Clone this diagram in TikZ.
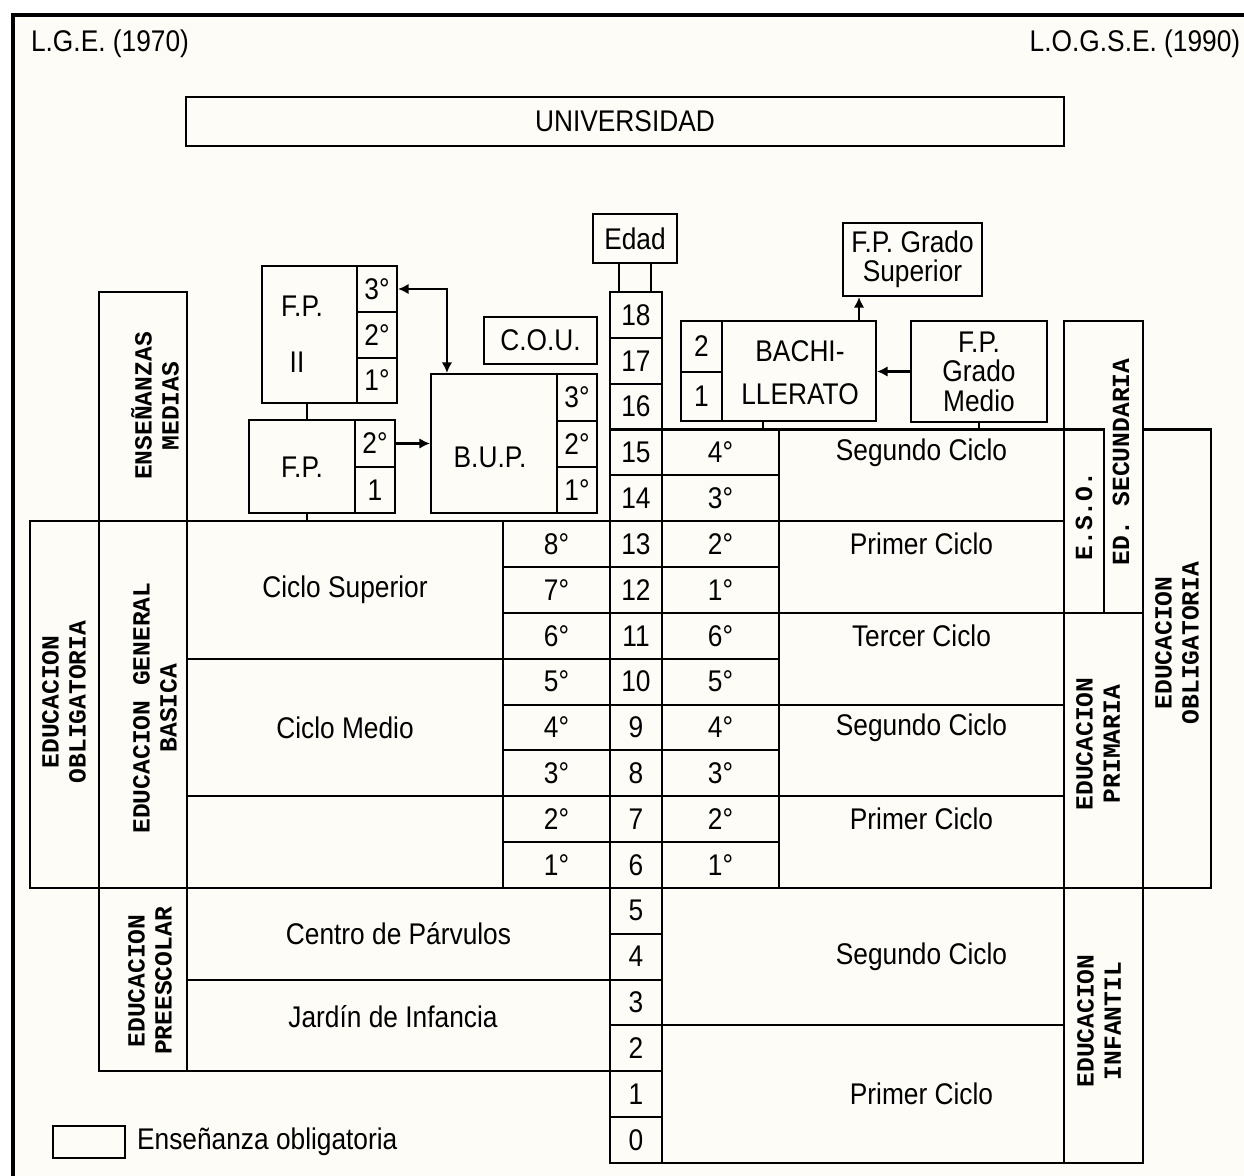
\documentclass[tikz,border=0pt]{standalone}
\usepackage{fontspec}
\setmainfont{Liberation Sans}[FakeStretch=0.88]
\newfontfamily\vertfont{Liberation Mono}
\usepackage{tikz}
\usetikzlibrary{arrows.meta,positioning}
\definecolor{paper}{RGB}{253,252,247}
\newcommand{\cellat}[6]{%
  \node[cell, minimum width={(#4-#2)*0.01cm}, minimum height={(#5-#3)*0.01cm}]
    (#1) at ({(#2+#4)/2},{(#3+#5)/2}) {#6};}

\begin{document}
\begin{tikzpicture}[x=0.01cm, y=-0.01cm, line width=0.6pt,
  font=\fontsize{8.5}{8.4}\selectfont,
  cell/.style={draw, inner sep=0pt, align=center},
  txt/.style={inner sep=0pt},
  vert/.style={rotate=90, align=center, inner sep=0pt, font=\vertfont\bfseries\fontsize{7}{7.7}\selectfont},
  arr/.style={-{Latex[length=3pt,width=3pt]}},
  dblarr/.style={{Latex[length=3pt,width=3pt]}-{Latex[length=3pt,width=3pt]}}]
  \useasboundingbox (0,0) rectangle (1244,1176);
  \fill[paper] (13,15) rectangle (1244,1176);
  \draw[line width=1.1pt] (13,1176) -- (13,15) -- (1244,15);

  % titles
  \node[txt] (lge) at (110,44) {L.G.E. (1970)};
  \node[txt] (logse) at (1135,44) {L.O.G.S.E. (1990)};
  \cellat{univ}{186}{97}{1064}{146}{UNIVERSIDAD}

  % age column
  \cellat{edad}{593}{214}{677}{263}{Edad}
  \foreach \a in {0,...,18} {
    \pgfmathsetmacro{\yt}{292+(18-\a)*45.84}
    \pgfmathsetmacro{\yb}{\yt+45.84}
    \cellat{age\a}{610}{\yt}{662}{\yb}{\a}
  }
  \draw ([xshift=-0.16cm]edad.south) -- ([xshift=-0.16cm]edad.south |- age18.north);
  \draw ([xshift=0.16cm]edad.south) -- ([xshift=0.16cm]edad.south |- age18.north);

  % L.G.E. side
  \cellat{oblL}{30}{521.2}{99}{887.9}{}
  \cellat{egb}{99}{521.2}{187}{887.9}{}
  \cellat{ensm}{99}{292}{187}{521.2}{}
  \cellat{presc}{99}{887.9}{187}{1071.3}{}
  \cellat{csup}{187}{521.2}{503}{658.7}{Ciclo Superior}
  \cellat{cmed}{187}{658.7}{503}{796.2}{Ciclo Medio}
  \cellat{cini}{187}{796.2}{503}{887.9}{}
  \cellat{parv}{187}{887.9}{610}{979.6}{Centro de Párvulos}
  \cellat{jard}{187}{979.6}{610}{1071.3}{}
  \node[txt] (jardt) at (393,1017) {Jardín de Infancia};
  \foreach \a/\g in {13/8,12/7,11/6,10/5,9/4,8/3,7/2,6/1} {
    \pgfmathsetmacro{\yt}{292+(18-\a)*45.84}
    \pgfmathsetmacro{\yb}{\yt+45.84}
    \cellat{lgeg\a}{503}{\yt}{610}{\yb}{\g°}
  }
  \node[vert] (oblLt) at (64,702) {EDUCACION\\OBLIGATORIA};
  \node[vert] (egbt) at (155,708) {EDUCACION GENERAL\\BASICA};
  \node[vert] (ensmt) at (155,406) {ENSEÑANZAS\\MEDIAS};
  \node[vert] (presct) at (150,981) {EDUCACION\\PREESCOLAR};

  % F.P. and B.U.P.
  \cellat{fptwo}{262}{266}{397}{403}{}
  \cellat{fptwoc}{357}{266}{397}{312}{3°}
  \cellat{fptwob}{357}{312}{397}{358}{2°}
  \cellat{fptwoa}{357}{358}{397}{403}{1°}
  \node[txt] (fptwot) at (302,306) {F.P.};
  \node[txt] (fptwon) at (297,362) {II};
  \cellat{fpone}{249}{420}{395}{513}{}
  \cellat{fponeb}{355}{420}{395}{467}{2°}
  \cellat{fponea}{355}{467}{395}{513}{1}
  \node[txt] (fponet) at (302,467) {F.P.};
  \cellat{bup}{431}{374}{597}{513}{}
  \cellat{bupc}{557}{374}{597}{421}{3°}
  \cellat{bupb}{557}{421}{597}{467}{2°}
  \cellat{bupa}{557}{467}{597}{513}{1°}
  \node[txt] (bupt) at (490,457) {B.U.P.};
  \cellat{cou}{484}{317}{597}{364}{C.O.U.}
  \draw ([xshift=-0.225cm]fptwo.south) -- ([xshift=-0.225cm]fptwo.south |- fpone.north);
  \draw ([xshift=-0.15cm]fpone.south) -- ([xshift=-0.15cm]fpone.south |- csup.north);
  \draw[arr] (fponeb.east) -- (fponeb.east -| bup.west);
  \draw[dblarr] (fptwoc.east) -| ([xshift=-0.67cm]bup.north);

  % L.O.G.S.E. side
  \foreach \a/\g in {15/4,14/3,13/2,12/1,11/6,10/5,9/4,8/3,7/2,6/1} {
    \pgfmathsetmacro{\yt}{292+(18-\a)*45.84}
    \pgfmathsetmacro{\yb}{\yt+45.84}
    \cellat{logg\a}{662}{\yt}{779}{\yb}{\g°}
  }
  \cellat{esotwo}{779}{429.5}{1064}{521.2}{}
  \cellat{esoone}{779}{521.2}{1064}{612.9}{}
  \cellat{primc}{779}{612.9}{1064}{704.6}{}
  \cellat{primb}{779}{704.6}{1064}{796.2}{}
  \cellat{prima}{779}{796.2}{1064}{887.9}{}
  \cellat{infb}{662}{887.9}{1064}{1025.4}{}
  \cellat{infa}{662}{1025.4}{1064}{1163}{}
  \node[txt] (esotwot) at (esotwo |- age15) {Segundo Ciclo};
  \node[txt] (esoonet) at (esotwo |- age13) {Primer Ciclo};
  \node[txt] (primct) at (esotwo |- age11) {Tercer Ciclo};
  \node[txt] (primbt) at (esotwo |- age9) {Segundo Ciclo};
  \node[txt] (primat) at (esotwo |- age7) {Primer Ciclo};
  \node[txt] (infbt) at (esotwo |- age4) {Segundo Ciclo};
  \node[txt] (infat) at (esotwo |- age1) {Primer Ciclo};
  \cellat{esec}{1064}{321}{1143}{612.9}{}
  \cellat{eso}{1064}{429.5}{1104}{612.9}{}
  \cellat{eprim}{1064}{612.9}{1143}{887.9}{}
  \cellat{oblR}{1143}{429.5}{1211}{887.9}{}
  \cellat{einf}{1064}{887.9}{1143}{1163}{}
  \node[vert] (esect) at (1121,462) {ED. SECUNDARIA};
  \node[vert] (esot) at (1084,516) {E.S.O.};
  \node[vert] (eprimt) at (1098,744) {EDUCACION\\PRIMARIA};
  \node[vert] (oblRt) at (1177,643) {EDUCACION\\OBLIGATORIA};
  \node[vert] (einft) at (1099,1021) {EDUCACION\\INFANTIL};

  % Bachillerato and F.P. grados
  \cellat{bach}{681}{321}{876}{421}{}
  \cellat{bachb}{681}{321}{722}{372}{2}
  \cellat{bacha}{681}{372}{722}{421}{1}
  \node[txt, align=center, font=\fontsize{8.5}{12.3}\selectfont] (bacht) at (800,373) {BACHI-\\LLERATO};
  \cellat{fpgs}{843}{223}{982}{296}{F.P. Grado\\Superior}
  \cellat{fpgm}{911}{321}{1047}{422}{F.P.\\Grado\\Medio}
  \draw[arr] ([xshift=0.805cm]bach.north) -- ([xshift=0.805cm]bach.north |- fpgs.south);
  \draw[arr] (fpgm.west) -- (fpgm.west -| bach.east);
  \draw ([xshift=-0.155cm]bach.south) -- ([xshift=-0.155cm]bach.south |- logg15.north);
  \draw (fpgm.south) -- (fpgm.south |- esotwo.north);

  % legend
  \cellat{legbox}{53}{1126}{125}{1158}{}
  \node[txt, right=0.1cm of legbox] (legt) {Enseñanza obligatoria};
\end{tikzpicture}
\end{document}
